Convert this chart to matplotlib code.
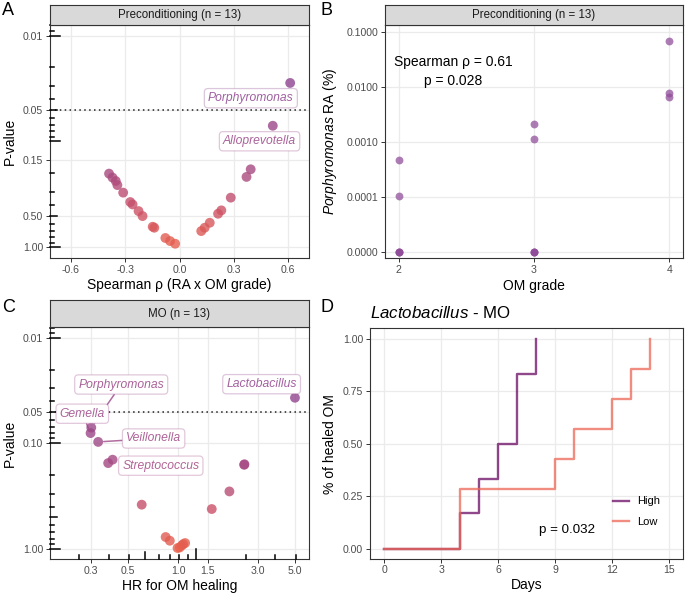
import numpy as np
import matplotlib
matplotlib.use('Agg')
import matplotlib.pyplot as plt
from matplotlib.colors import LinearSegmentedColormap, LogNorm

plt.rcParams['font.family'] = ['Liberation Sans', 'DejaVu Sans']
plt.rcParams['mathtext.fontset'] = 'custom'
plt.rcParams['mathtext.rm'] = 'Liberation Sans'
plt.rcParams['mathtext.it'] = 'Liberation Sans:italic'

# ---- panel A: spearman rho vs p (preconditioning)
rho_a = [0.611, 0.515, 0.393, 0.370, 0.283, 0.231, 0.213, 0.167, 0.139, 0.120,
         -0.024, -0.052, -0.078, -0.139, -0.148, -0.204, -0.226, -0.259, -0.272,
         -0.311, -0.343, -0.352, -0.370, -0.389]
p_a = [0.028, 0.071, 0.183, 0.216, 0.339, 0.447, 0.481, 0.585, 0.652, 0.701,
       0.923, 0.871, 0.815, 0.652, 0.638, 0.506, 0.454, 0.393, 0.373,
       0.304, 0.258, 0.236, 0.219, 0.201]
lab_a = ['Porphyromonas', 'Alloprevotella']
lab_a_pos = [(0.394, 0.039), (0.442, 0.0995)]

# ---- panel B: Porphyromonas RA by OM grade
grade_b = [2, 2, 2, 2, 2, 3, 3, 3, 3, 3, 4, 4, 4]
ra_b = [0.00047, 0.000105, 0, 0, 0, 0.00215, 0.00113, 0, 0, 0, 0.0686, 0.0080, 0.0067]

# ---- panel C: HR for OM healing vs p (MO)
hr_c = [5.03, 0.300, 0.297, 0.330, 0.403, 0.379, 2.49, 2.50, 2.03, 1.59, 0.603,
        0.84, 0.89, 0.99, 1.02, 1.05, 1.07, 1.10]
p_c = [0.037, 0.071, 0.080, 0.097, 0.143, 0.154, 0.160, 0.158, 0.286, 0.420, 0.382,
       0.774, 0.839, 0.984, 0.973, 0.931, 0.904, 0.883]
lab_c = ['Lactobacillus', 'Porphyromonas', 'Gemella', 'Veillonella', 'Streptococcus']
lab_c_idx = [0, 1, 2, 3, 4]
lab_c_pos = [(3.17, 0.0275), (0.454, 0.0277), (0.265, 0.0524), (0.711, 0.090), (0.785, 0.163)]
lab_c_seg = [False, True, True, True, False]

# ---- panel D: Lactobacillus - MO, healed OM
high_days = [0, 4, 5, 6, 7, 8]
high_frac = [0, 0.167, 0.333, 0.5, 0.833, 1.0]
low_days = [0, 4, 9, 10, 12, 13, 14]
low_frac = [0, 0.286, 0.429, 0.571, 0.714, 0.857, 1.0]

W, H = 685., 595.
fig = plt.figure(figsize=(6.85, 5.95), dpi=100)

cmap = LinearSegmentedColormap.from_list('pv', [(0, '#8E4490'), (0.548, '#A84A80'),
                                                (0.742, '#C8506A'), (1, '#E8604C')])
norm = LogNorm(vmin=10**-1.55, vmax=1.0)

tickcol = '#4D4D4D'
gridcol = '#EBEBEB'


def box(l, t, r, b):
    return [l / W, 1 - b / H, (r - l) / W, (b - t) / H]


def style(ax):
    ax.set_axisbelow(True)
    ax.grid(color=gridcol, linewidth=0.9)
    for s in ax.spines.values():
        s.set_color('#333333')
        s.set_linewidth(0.8)
    ax.tick_params(direction='out', length=3, width=0.7, color='#333333',
                   labelsize=7.6, labelcolor=tickcol, pad=2)
    ax.minorticks_off()


def strip(l, t, r, b, txt):
    s = fig.add_axes(box(l, t, r, b))
    s.set_facecolor('#D9D9D9')
    s.set_xticks([])
    s.set_yticks([])
    for sp in s.spines.values():
        sp.set_color('#333333')
        sp.set_linewidth(0.8)
    s.text(0.5, 0.5, txt, ha='center', va='center', fontsize=8.3, color='#1A1A1A')


def logticks(ax, axis, starts, npx):
    # ggplot style annotation_logticks, drawn inside the panel
    for st in starts:
        for k in range(1, 10):
            v = st * k
            if k == 1:
                ln = 10.5
            elif k == 5:
                ln = 7.3
            else:
                ln = 4.0
            f = ln / npx
            if axis == 'y':
                lo, hi = sorted(ax.get_ylim())
                if lo <= v <= hi:
                    ax.plot([0, f], [v, v], color='black', lw=1.1,
                            transform=ax.get_yaxis_transform(), clip_on=False, zorder=5)
            else:
                lo, hi = sorted(ax.get_xlim())
                if lo <= v <= hi:
                    ax.plot([v, v], [0, f], color='black', lw=1.1,
                            transform=ax.get_xaxis_transform(), clip_on=False, zorder=5)


def label(ax, txt, xy, xytext, col, seg, z):
    ap = None
    if seg:
        ap = dict(arrowstyle='-', color=col, lw=1.1, alpha=0.8, shrinkA=0, shrinkB=4)
    ax.annotate(txt, xy=xy, xytext=xytext, textcoords='data', ha='center', va='center',
                fontsize=8.7, style='italic', color=col, alpha=0.85,
                bbox=dict(boxstyle='round,pad=0.3,rounding_size=0.3', fc='white',
                          ec=matplotlib.colors.to_rgba(col, 0.3), lw=0.9),
                arrowprops=ap, zorder=z)


# ================= A
axA = fig.add_axes(box(50, 25, 309, 258))
style(axA)
axA.set_yscale('log')
axA.set_ylim(10**0.1, 10**-2.1)
axA.set_xlim(-0.715, 0.715)
axA.scatter(rho_a, p_a, c=p_a, cmap=cmap, norm=norm, s=50, alpha=0.8, lw=0, zorder=3)
axA.axhline(0.05, color='#222222', lw=1.1, linestyle=(0, (1, 2.2)), zorder=2)
axA.set_xticks([-0.6, -0.3, 0.0, 0.3, 0.6])
axA.set_xticklabels(['-0.6', '-0.3', '0.0', '0.3', '0.6'])
axA.set_yticks([0.01, 0.05, 0.15, 0.5, 1.0])
axA.set_yticklabels(['0.01', '0.05', '0.15', '0.50', '1.00'])
axA.minorticks_off()
axA.set_xlabel(u'Spearman \u03c1 (RA x OM grade)', fontsize=10)
axA.set_ylabel('P-value', fontsize=10)
axA.xaxis.set_label_coords(0.5, -0.086)
axA.yaxis.set_label_coords(-0.128, 0.5)
logticks(axA, 'y', [0.0001, 0.001, 0.01, 0.1, 1.0], 259.)
for i, t in enumerate(lab_a):
    col = cmap(norm(p_a[i]))
    label(axA, t, (rho_a[i], p_a[i]), lab_a_pos[i], col, False, 6)
strip(50, 5, 309, 25, 'Preconditioning (n = 13)')

# ================= B
sig = 1e-5
fwd = lambda x: np.arcsinh(np.asarray(x) / (2 * sig)) / np.log(10)
inv = lambda y: 2 * sig * np.sinh(np.asarray(y) * np.log(10))
axB = fig.add_axes(box(385, 25, 683, 258))
style(axB)
axB.set_yscale('function', functions=(fwd, inv))
axB.set_ylim(float(inv(-0.104)), float(inv(4.133)))
axB.set_xlim(1.9, 4.1)
axB.scatter(grade_b, ra_b, s=32, color='#8E4A98', alpha=0.72, lw=0, zorder=3)
axB.set_xticks([2, 3, 4])
axB.set_yticks([0, 0.0001, 0.001, 0.01, 0.1])
axB.set_yticklabels(['0.0000', '0.0001', '0.0010', '0.0100', '0.1000'])
axB.minorticks_off()
axB.set_xlabel('OM grade', fontsize=10)
axB.set_ylabel(r'$\it{Porphyromonas}$ RA (%)', fontsize=10)
axB.xaxis.set_label_coords(0.5, -0.09)
axB.yaxis.set_label_coords(-0.155, 0.5)
axB.text(0.228, 0.80, u'Spearman \u03c1 = 0.61\np = 0.028', transform=axB.transAxes,
         ha='center', va='center', fontsize=10, linespacing=1.45, color='black')
strip(385, 5, 683, 25, 'Preconditioning (n = 13)')

# ================= C
axC = fig.add_axes(box(50, 327.3, 309, 559.3))
style(axC)
axC.set_yscale('log')
axC.set_xscale('log')
axC.set_ylim(10**0.1, 10**-2.1)
axC.set_xlim(10**-0.771, 10**0.786)
axC.scatter(hr_c, p_c, c=p_c, cmap=cmap, norm=norm, s=50, alpha=0.8, lw=0, zorder=3)
axC.axhline(0.05, color='#222222', lw=1.1, linestyle=(0, (1, 2.2)), zorder=2)
axC.set_xticks([0.3, 0.5, 1.0, 1.5, 3.0, 5.0])
axC.set_xticklabels(['0.3', '0.5', '1.0', '1.5', '3.0', '5.0'])
axC.set_yticks([0.01, 0.05, 0.1, 1.0])
axC.set_yticklabels(['0.01', '0.05', '0.10', '1.00'])
axC.minorticks_off()
axC.tick_params(axis='x', pad=1.5)
axC.set_xlabel('HR for OM healing', fontsize=10)
axC.set_ylabel('P-value', fontsize=10)
axC.xaxis.set_label_coords(0.5, -0.083)
axC.yaxis.set_label_coords(-0.128, 0.5)
logticks(axC, 'y', [0.0001, 0.001, 0.01, 0.1, 1.0], 259.)
logticks(axC, 'x', [0.0127, 0.127, 1.27], 232.)
for n, t in enumerate(lab_c):
    i = lab_c_idx[n]
    col = cmap(norm(p_c[i]))
    label(axC, t, (hr_c[i], p_c[i]), lab_c_pos[n], col, lab_c_seg[n], 6 + n)
strip(50, 300, 309, 327.3, 'MO (n = 13)')

# ================= D
axD = fig.add_axes(box(370, 328.3, 683.3, 559))
style(axD)
axD.set_xlim(-0.75, 15.75)
axD.set_ylim(-0.05, 1.05)
axD.step(high_days, high_frac, where='post', color='#6A0A62', alpha=0.75, lw=1.7, label='High')
axD.step(low_days, low_frac, where='post', color='#EB6755', alpha=0.75, lw=1.7, label='Low')
axD.set_xticks([0, 3, 6, 9, 12, 15])
axD.set_yticks([0, 0.25, 0.5, 0.75, 1.0])
axD.set_yticklabels(['0.00', '0.25', '0.50', '0.75', '1.00'])
axD.tick_params(axis='x', pad=1.5)
axD.set_xlabel('Days', fontsize=10)
axD.set_ylabel('% of healed OM', fontsize=10)
axD.xaxis.set_label_coords(0.5, -0.083)
axD.yaxis.set_label_coords(-0.105, 0.5)
axD.text(0.0, 1.046, r'$\it{Lactobacillus}$ - MO', transform=axD.transAxes,
         ha='left', va='baseline', fontsize=12.2)
axD.text(9.65, 0.09, 'p = 0.032', ha='center', va='center', fontsize=9.6)
axD.legend(loc='center', bbox_to_anchor=(0.85, 0.205), frameon=False, fontsize=8,
           handlelength=1.5, handletextpad=0.7, labelspacing=0.95)

# panel letters
fig.text(2 / W, 1 - 2 / H, 'A', fontsize=13, va='top', ha='left')
fig.text(320 / W, 1 - 2 / H, 'B', fontsize=13, va='top', ha='left')
fig.text(2 / W, 1 - 299 / H, 'C', fontsize=13, va='top', ha='left')
fig.text(321 / W, 1 - 299 / H, 'D', fontsize=13, va='top', ha='left')

fig.savefig('out.png', dpi=100)
